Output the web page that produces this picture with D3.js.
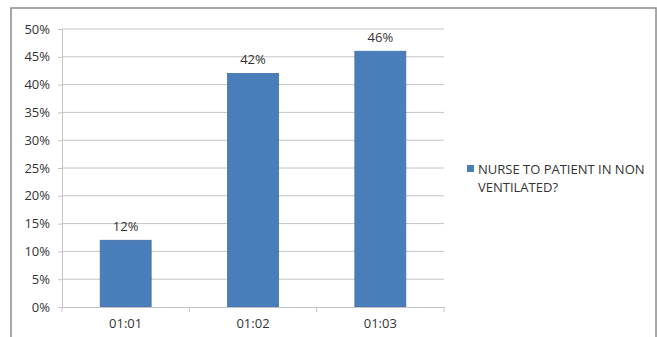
<!DOCTYPE html>
<html><head><meta charset="utf-8">
<script src="https://cdn.jsdelivr.net/npm/d3@7"></script>
<style>body{margin:0;background:#fff}svg{display:block}</style>
</head><body><div id="chart"></div>
<script>
const categories = ["01:01", "01:02", "01:03"];
const values = [0.12, 0.42, 0.46];
const seriesName = ["NURSE TO PATIENT IN NON", "VENTILATED?"];
const yTicks = [0, 0.05, 0.10, 0.15, 0.20, 0.25, 0.30, 0.35, 0.40, 0.45, 0.50];

const W = 657, H = 337;
const svg = d3.select("#chart").append("svg").attr("width", W).attr("height", H);
const font = "'Open Sans', sans-serif";
const txt = "#333333";

svg.append("rect").attr("x", 11).attr("y", 8).attr("width", 645).attr("height", 340)
  .attr("fill", "#fff").attr("stroke", "#8a8a8a").attr("stroke-width", 1.5);

const pLeft = 62, pRight = 444, pTop = 29, pBottom = 307;
const x = d3.scaleBand().domain(categories).range([pLeft, pRight]).paddingInner(0.6).paddingOuter(0.3);
const xb = d3.scaleBand().domain(categories).range([pLeft, pRight]);
const y = d3.scaleLinear().domain([0, 0.5]).range([pBottom, pTop]);

// gridlines
svg.append("g").selectAll("line").data(yTicks.filter(d => d > 0)).join("line")
  .attr("x1", pLeft).attr("x2", pRight).attr("y1", d => y(d)).attr("y2", d => y(d))
  .attr("stroke", "#c4c4c4").attr("stroke-width", 1);

// y axis
const ya = svg.append("g").attr("transform", `translate(${pLeft},0)`)
  .call(d3.axisLeft(y).tickValues(yTicks).tickFormat(d3.format(".0%")).tickSize(4).tickPadding(8));
ya.select(".domain").attr("stroke", "#c4c4c4");
ya.selectAll(".tick line").attr("stroke", "#c4c4c4");
ya.selectAll("text").attr("font-family", font).attr("font-size", 13).attr("fill", txt);

// bars
svg.append("g").selectAll("rect").data(values).join("rect")
  .attr("x", (d, i) => x(categories[i])).attr("width", x.bandwidth())
  .attr("y", d => y(d)).attr("height", d => pBottom - y(d))
  .attr("fill", "#4a7ebb").attr("stroke", "#3f6fa8").attr("stroke-width", 0.8);

// x axis
const xa = svg.append("g").attr("transform", `translate(0,${pBottom})`)
  .call(d3.axisBottom(xb).tickSize(0).tickPadding(12));
xa.select(".domain").attr("stroke", "#c4c4c4");
xa.selectAll("text").attr("font-family", font).attr("font-size", 13).attr("fill", txt);
svg.append("g").selectAll("line").data([pLeft, ...categories.map(c => xb(c) + xb.bandwidth())]).join("line")
  .attr("x1", d => d).attr("x2", d => d).attr("y1", pBottom).attr("y2", pBottom + 5)
  .attr("stroke", "#c4c4c4");

// value labels
svg.append("g").selectAll("text").data(values).join("text")
  .attr("x", (d, i) => x(categories[i]) + x.bandwidth() / 2).attr("y", d => y(d) - 9)
  .attr("text-anchor", "middle").attr("font-family", font).attr("font-size", 13).attr("fill", txt)
  .text(d => d3.format(".0%")(d));

// legend
svg.append("rect").attr("x", 467).attr("y", 165).attr("width", 7).attr("height", 7).attr("fill", "#4a7ebb");
svg.append("g").selectAll("text").data(seriesName).join("text")
  .attr("x", 478).attr("y", (d, i) => 174 + i * 18)
  .attr("font-family", font).attr("font-size", 13).attr("fill", txt).text(d => d);
</script></body></html>
